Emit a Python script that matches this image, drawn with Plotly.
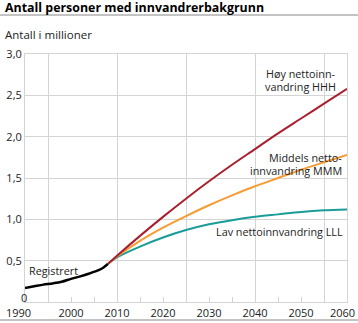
import plotly.graph_objects as go

reg_years = [1990, 1992, 1994, 1996, 1998, 2000, 2002, 2004, 2006, 2007, 2008]
reg_vals = [0.17, 0.19, 0.21, 0.225, 0.245, 0.28, 0.31, 0.345, 0.385, 0.415, 0.46]

proj_years = [2008, 2010, 2015, 2020, 2025, 2030, 2035, 2040, 2045, 2050, 2055, 2060]
hhh = [0.46, 0.56, 0.80, 1.03, 1.25, 1.46, 1.66, 1.85, 2.04, 2.22, 2.40, 2.58]
mmm = [0.46, 0.55, 0.74, 0.90, 1.04, 1.17, 1.29, 1.40, 1.50, 1.60, 1.69, 1.78]
lll = [0.46, 0.54, 0.67, 0.78, 0.87, 0.94, 0.99, 1.03, 1.06, 1.09, 1.11, 1.12]

x_ticks = [1990, 2000, 2010, 2020, 2030, 2040, 2050, 2060]
x_labels = ["1990", "2000", "2010", "2020", "2030", "2040", "2050", "2060"]
x_grid = [1995, 2010, 2025, 2040, 2055]
y_ticks = [0, 0.5, 1.0, 1.5, 2.0, 2.5, 3.0]
y_labels = ["0", "0,5", "1,0", "1,5", "2,0", "2,5", "3,0"]

FONT = "Open Sans"
GRID = "#d4d4d4"
TXT = "#222222"
LBL = 10.8
PW, PH = 322, 248  # plot area in px

fig = go.Figure()
fig.add_trace(go.Scatter(x=proj_years, y=lll, mode="lines", line=dict(color="#1a9c98", width=2, shape="spline", smoothing=0.8), hoverinfo="skip"))
fig.add_trace(go.Scatter(x=proj_years, y=mmm, mode="lines", line=dict(color="#f79b35", width=2, shape="spline", smoothing=0.8), hoverinfo="skip"))
fig.add_trace(go.Scatter(x=proj_years, y=hhh, mode="lines", line=dict(color="#a8202e", width=2, shape="spline", smoothing=0.8), hoverinfo="skip"))
fig.add_trace(go.Scatter(x=reg_years, y=reg_vals, mode="lines", line=dict(color="#000000", width=2.5, shape="spline", smoothing=0.8), hoverinfo="skip"))
# overlay trace for gridline axis
fig.add_trace(go.Scatter(x=[1990, 2060], y=[None, None], xaxis="x2", showlegend=False, hoverinfo="skip"))


def lab(text, x, y, anchor="right"):
    return dict(text=text, x=x, y=y, xanchor=anchor, yanchor="middle", showarrow=False,
                font=dict(size=LBL, color=TXT))


# tick texts: the first/last x labels and the y "0" are placed as annotations (offset like the original)
tick_text_x = ["" if i in (0, len(x_labels) - 1) else t for i, t in enumerate(x_labels)]
tick_text_y = ["" if i == 0 else t for i, t in enumerate(y_labels)]

fig.update_layout(
    width=358, height=323,
    margin=dict(l=25, r=11, t=54, b=21, autoexpand=False),
    paper_bgcolor="white", plot_bgcolor="white",
    showlegend=False,
    font=dict(family=FONT, size=11, color=TXT),
    xaxis=dict(range=[1990, 2060], tickvals=x_ticks, ticktext=tick_text_x,
               showgrid=False, zeroline=False, showline=True, linecolor=GRID, linewidth=1,
               mirror=True, ticks="inside", ticklen=5, tickcolor=GRID,
               minor=dict(dtick=5, tick0=1990, ticks="inside", ticklen=5, tickcolor=GRID),
               ticklabelstandoff=1, automargin=False,
               tickfont=dict(size=11, color=TXT), fixedrange=True),
    xaxis2=dict(range=[1990, 2060], overlaying="x", tickvals=x_grid, showticklabels=False,
                showgrid=True, gridcolor=GRID, gridwidth=1, zeroline=False, ticks="", automargin=False),
    yaxis=dict(range=[0, 3.0], tickvals=y_ticks, ticktext=tick_text_y, showgrid=True,
               gridcolor=GRID, gridwidth=1, zeroline=False, showline=True, linecolor=GRID,
               mirror=True, ticks="", automargin=False, tickfont=dict(size=11, color=TXT), fixedrange=True),
    shapes=[
        dict(type="line", xref="paper", yref="paper", x0=-25/PW, x1=(358-25)/PW, y0=1 + 39/PH, y1=1 + 39/PH,
             line=dict(color="#888888", width=1)),
        dict(type="line", xref="paper", yref="paper", x0=-25/PW, x1=(358-25)/PW, y0=-18/PH, y1=-18/PH,
             line=dict(color="#888888", width=1)),
    ],
    annotations=[
        dict(text="<b>Antall personer med innvandrerbakgrunn</b>", xref="paper", yref="paper",
             x=-22/PW, y=1 + 47/PH, xanchor="left", yanchor="middle", showarrow=False,
             font=dict(size=12.4, color="#000000")),
        dict(text="Antall i millioner", xref="paper", yref="paper",
             x=-22/PW, y=1 + 19/PH, xanchor="left", yanchor="middle", showarrow=False,
             font=dict(size=11.5, color=TXT)),
        dict(text=y_labels[0], xref="paper", yref="paper", x=-1.5/PW, y=4.5/PH,
             xanchor="center", yanchor="middle", showarrow=False, font=dict(size=11, color=TXT)),
        dict(text=x_labels[0], xref="paper", yref="paper", x=-21/PW, y=-10/PH,
             xanchor="left", yanchor="middle", showarrow=False, font=dict(size=11, color=TXT)),
        dict(text=x_labels[-1], xref="paper", yref="paper", x=(357-25)/PW, y=-10/PH,
             xanchor="right", yanchor="middle", showarrow=False, font=dict(size=11, color=TXT)),
        lab("Høy nettoinn-", 2058.0, 2.76),
        lab("vandring HHH", 2058.0, 2.61),
        lab("Middels netto-", 2059.4, 1.745),
        lab("innvandring MMM", 2059.4, 1.595),
        lab("Lav nettoinnvandring LLL", 2059.6, 0.847),
        lab("Registrert", 1990.4, 0.387, anchor="left"),
    ],
)

fig.write_html("out.html")
